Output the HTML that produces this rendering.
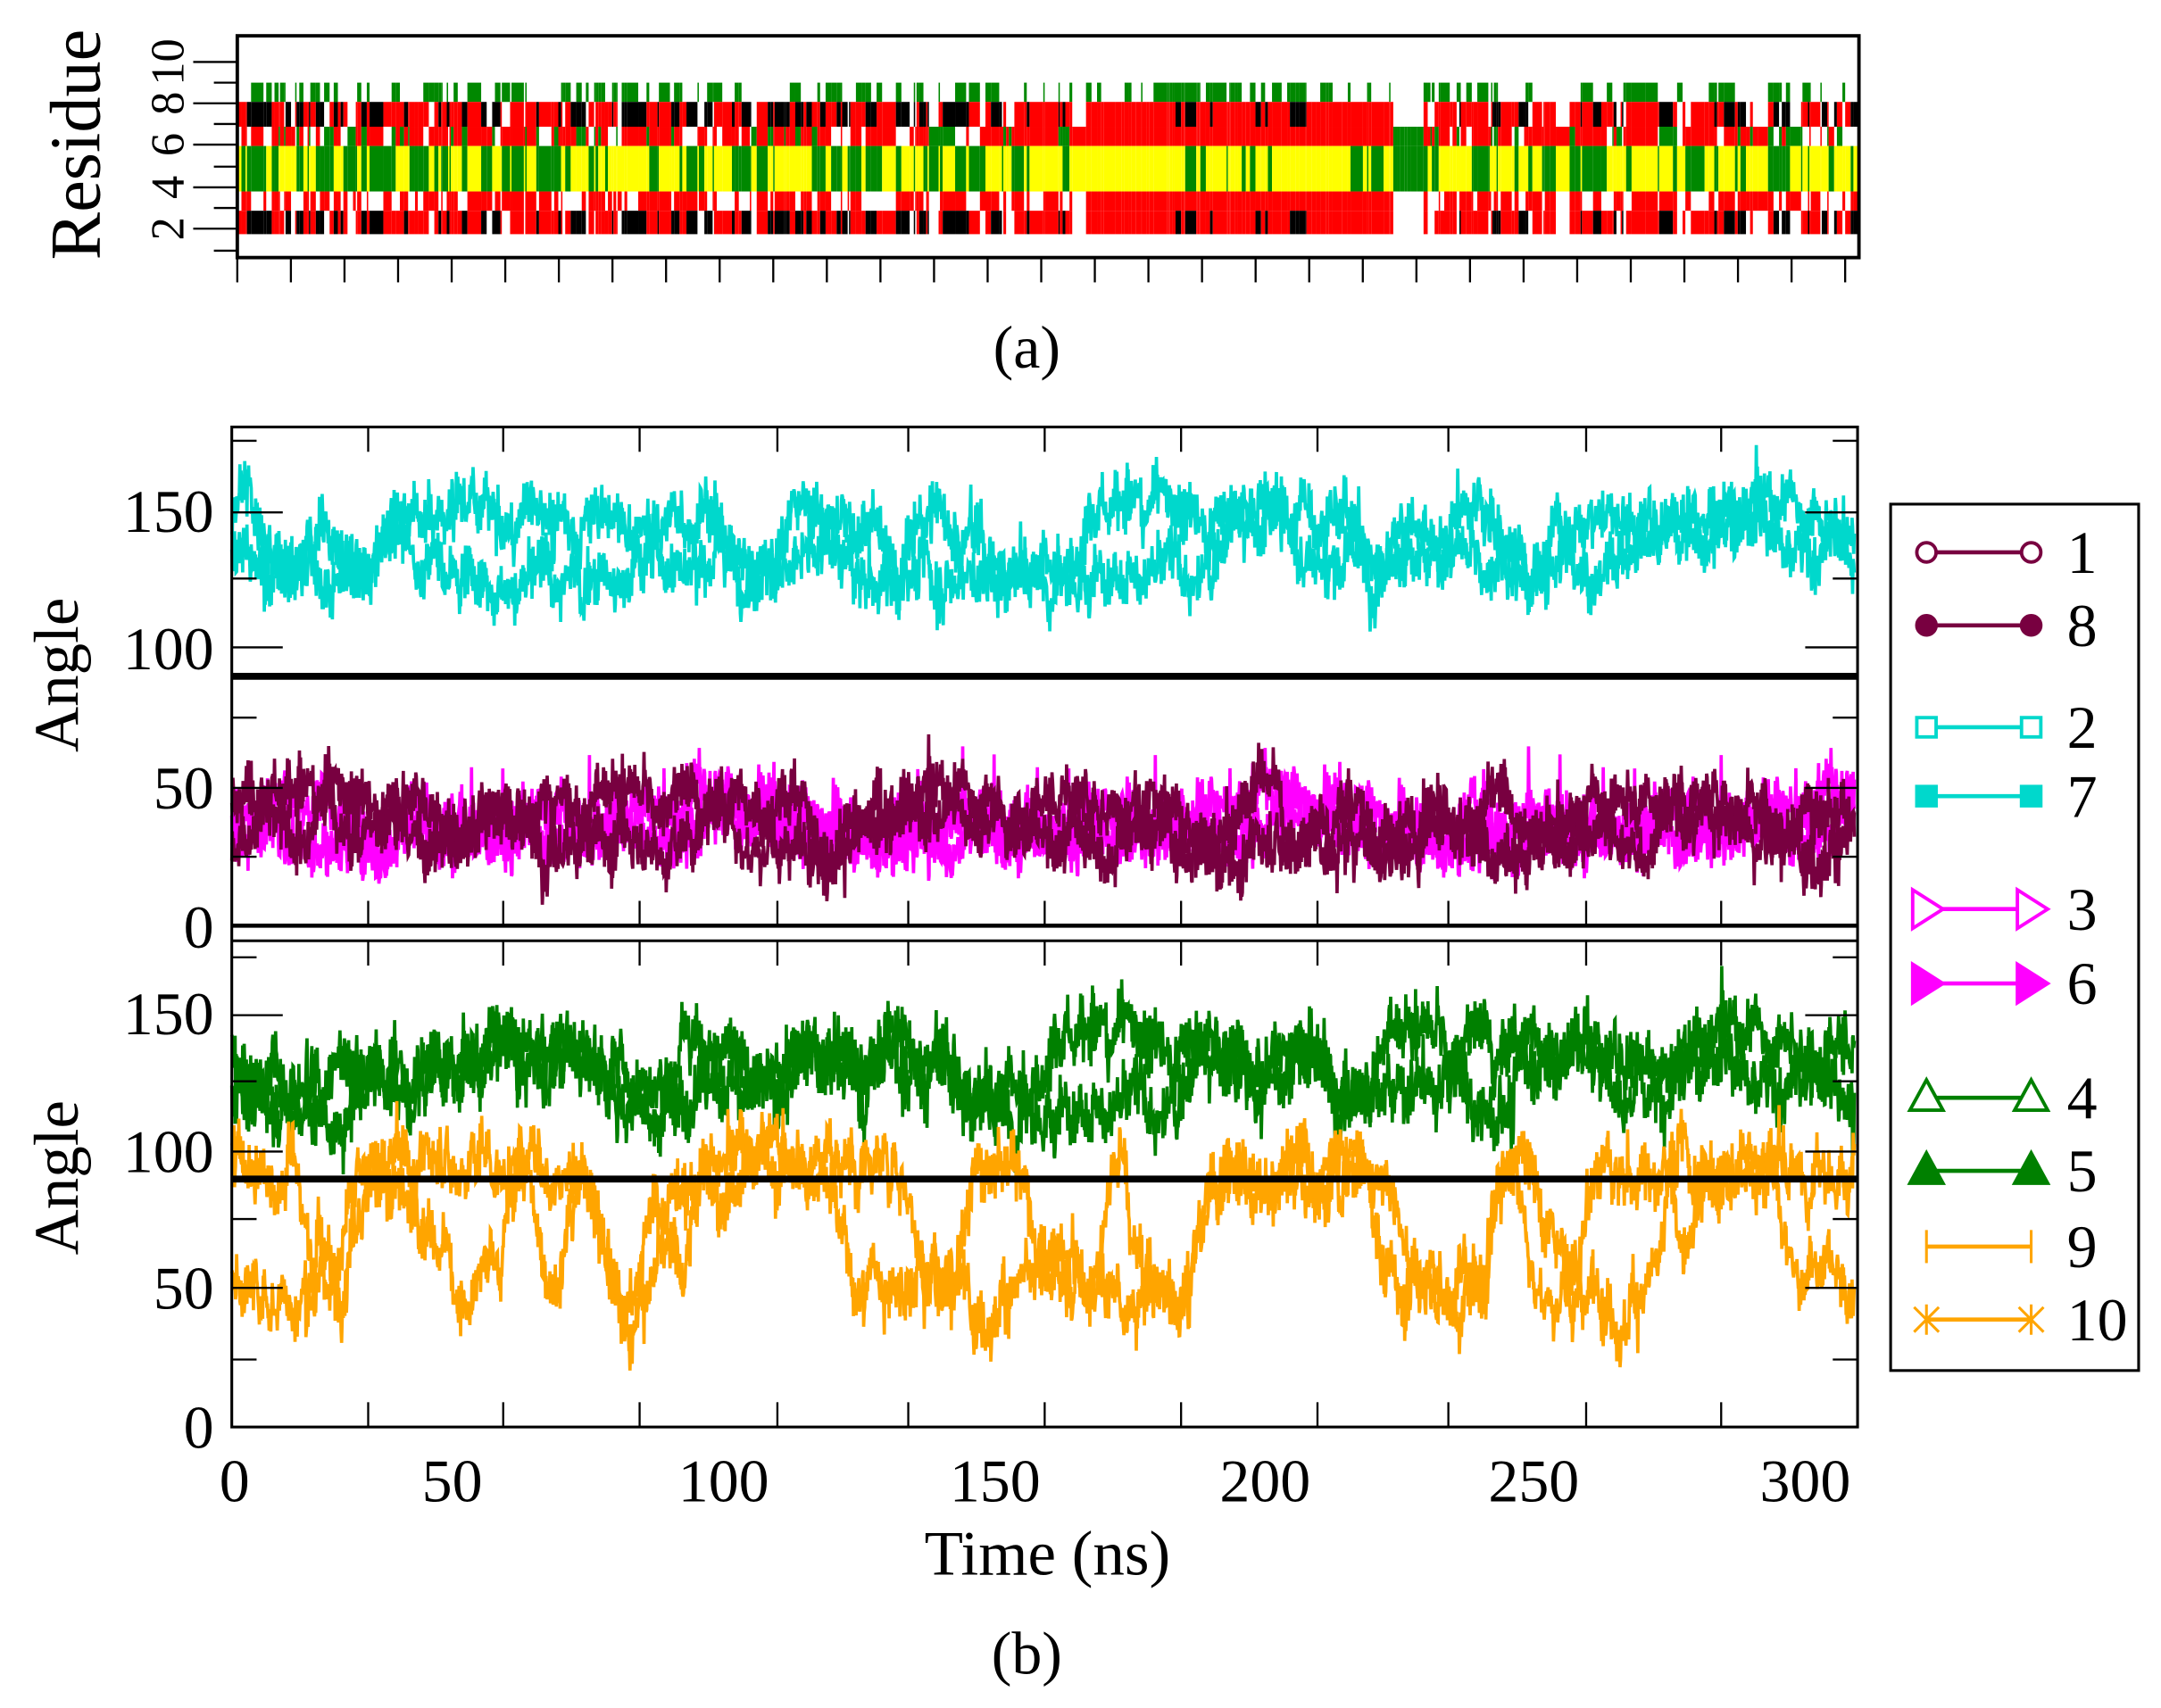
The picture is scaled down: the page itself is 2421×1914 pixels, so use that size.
<!DOCTYPE html>
<html><head><meta charset="utf-8"><style>
html,body{margin:0;padding:0;background:#fff;}
svg{display:block;}
text{font-family:"Liberation Serif",serif;fill:#000;}
</style></head><body>
<svg id="s" width="2421" height="1914" viewBox="0 0 1568 1240" xmlns="http://www.w3.org/2000/svg">
<rect width="1568" height="1240" fill="#fff"/>
<g id="stripes"></g>
<rect x="172" y="26" width="1177" height="161" fill="none" stroke="#000" stroke-width="2.5"/>
<g id="topticks" stroke="#000" stroke-width="1.5"></g>
<g font-size="34" text-anchor="middle">
<text transform="translate(122,45) rotate(-90)" dy="11">10</text>
<text transform="translate(122,75) rotate(-90)" dy="11">8</text>
<text transform="translate(122,105) rotate(-90)" dy="11">6</text>
<text transform="translate(122,136) rotate(-90)" dy="11">4</text>
<text transform="translate(122,166) rotate(-90)" dy="11">2</text>
</g>
<text transform="translate(72,105) rotate(-90)" font-size="52" text-anchor="middle">Residue</text>
<text x="745" y="267" font-size="44" text-anchor="middle">(a)</text>

<g id="series"></g>
<rect x="168" y="310" width="1180" height="726" fill="none" stroke="#000" stroke-width="2"/>
<line x1="168" y1="491" x2="1348" y2="491" stroke="#000" stroke-width="5"/>
<line x1="168" y1="672" x2="1348" y2="672" stroke="#000" stroke-width="3"/>
<line x1="168" y1="683" x2="1348" y2="683" stroke="#000" stroke-width="2"/>
<line x1="168" y1="856" x2="1348" y2="856" stroke="#000" stroke-width="5"/>
<g id="bticks" stroke="#000" stroke-width="1.5"></g>
<g font-size="44" text-anchor="end">
<text x="155" y="386">150</text><text x="155" y="486">100</text><text x="155" y="587">50</text><text x="155" y="688">0</text>
<text x="155" y="751">150</text><text x="155" y="851">100</text><text x="155" y="950">50</text><text x="155" y="1051">0</text>
</g>
<g font-size="44" text-anchor="middle">
<text x="170" y="1090">0</text><text x="328" y="1090">50</text><text x="525" y="1090">100</text><text x="722" y="1090">150</text><text x="918" y="1090">200</text><text x="1113" y="1090">250</text><text x="1310" y="1090">300</text>
</g>
<text transform="translate(56,490) rotate(-90)" font-size="46" text-anchor="middle">Angle</text>
<text transform="translate(56,855) rotate(-90)" font-size="46" text-anchor="middle">Angle</text>
<text x="760" y="1143" font-size="46" text-anchor="middle">Time (ns)</text>
<text x="745" y="1215" font-size="44" text-anchor="middle">(b)</text>

<rect x="1372" y="366" width="180" height="629" fill="#fff" stroke="#000" stroke-width="2"/>
<g id="legend"></g>
</svg>
<script>
var NS="http://www.w3.org/2000/svg";
function el(p,t,a){var e=document.createElementNS(NS,t);for(var k in a)e.setAttribute(k,a[k]);p.appendChild(e);return e;}
var seed=12345;function rnd(){seed=(seed*1103515245+12345)&0x7fffffff;return seed/0x7fffffff;}
function gauss(){return (rnd()+rnd()+rnd()+rnd()-2)*1.2;}
var st=document.getElementById("stripes");
var rows=[[60,74],[74,92],[92,106],[106,139],[139,153],[153,170]];
var x=172;
while(x<1349){
 var w=1+Math.floor(rnd()*(rnd()<0.2?10:4)); if(x+w>1349)w=1349-x;
 var cols;
 if(x>=780&&x<1010){var b=rnd()<0.12?"#000":"#f00";cols=[rnd()<0.6?"#080":"#fff",b,"#f00",rnd()<0.12?"#080":"#ff0","#f00",b];}
 else if(x>=1010&&x<1030){cols=["#fff","#fff","#080","#080","#fff","#fff"];}
 else{var r=rnd();var b=r<0.4?"#000":(r<0.85?"#f00":"#fff");var g=rnd()<0.45;
  cols=[rnd()<0.45?"#080":"#fff",b,rnd()<0.55?"#f00":(rnd()<0.5?"#fff":"#080"),g?"#080":"#ff0",rnd()<0.6?"#f00":"#fff",b];}
 if(x>1340)cols[0]="#fff";
 for(var i=0;i<6;i++){if(cols[i]!="#fff")el(st,"rect",{x:x,y:rows[i][0],width:w,height:rows[i][1]-rows[i][0],fill:cols[i]});}
 x+=w;
}
var tt=document.getElementById("topticks");
for(var i=0;i<31;i++){var tx=172+i*38.9;if(tx>1340)tx=1338;el(tt,"line",{x1:tx,y1:187,x2:tx,y2:205});}
[45,75,105,136,166].forEach(function(y){el(tt,"line",{x1:140,y1:y,x2:172,y2:y});});
[60,90,121,151,182].forEach(function(y){el(tt,"line",{x1:155,y1:y,x2:172,y2:y});});
var bt=document.getElementById("bticks");
var xt=[168,267,365,464,564,659,758,857,956,1051,1151,1249,1348];
xt.forEach(function(t,i){var L=18;
 [[310,310+L],[672,672-L],[683,683+L],[1036,1036-L]].forEach(function(p){el(bt,"line",{x1:t,y1:p[0],x2:t,y2:p[1]});});});
[372,470,572,737,836,935].forEach(function(y){el(bt,"line",{x1:168,y1:y,x2:205,y2:y});el(bt,"line",{x1:1310,y1:y,x2:1348,y2:y});});
[320,420,521,622,695,785,885,987].forEach(function(y){el(bt,"line",{x1:168,y1:y,x2:186,y2:y});el(bt,"line",{x1:1330,y1:y,x2:1348,y2:y});});
var sg=document.getElementById("series");
function yU(v){return 672-v*2.02;} function yL(v){return 1036-v*1.99;}
function series(color,mean,alt,sw,sd,noise,ymap,spike){
 var N=3000,pts=[],v=mean,m=mean;
 for(var i=0;i<N;i++){
  if(alt&&rnd()<sw)m=(m==mean?alt:mean);
  v+= (m-v)*0.05+gauss()*sd;
  var o=v+gauss()*noise;
  if(spike&&rnd()<0.004)o+=spike*rnd();
  pts.push((168+i*1178/N).toFixed(1)+","+ymap(o).toFixed(1));
 }
 el(sg,"polyline",{points:pts.join(" "),fill:"none",stroke:color,"stroke-width":2.4});
}
series("#00d8cc",148,128,0.006,2.2,7,yU,0);
series("#00d8cc",130,148,0.006,2.2,7,yU,0);
series("#ff00ff",33,45,0.01,2.0,7,yU,40);
series("#ff00ff",40,30,0.01,2.0,7,yU,35);
series("#780040",30,45,0.01,2.0,7,yU,0);
series("#780040",42,30,0.01,2.0,7,yU,0);
series("#008000",138,118,0.01,2.5,8,yL,0);
series("#008000",125,140,0.01,2.5,8,yL,0);
series("#ffa500",50,95,0.008,3,7,yL,0);
series("#ffa500",98,55,0.008,3,7,yL,0);
var lg=document.getElementById("legend");
var L=[["1",401,"#780040","circ",0],["8",454,"#780040","circ",1],["2",528,"#00d8cc","sq",0],["7",578,"#00d8cc","sq",1],
["3",660,"#ff00ff","tri",0],["6",714,"#ff00ff","tri",1],["4",797,"#008000","up",0],["5",850,"#008000","up",1],["9",905,"#ffa500","plus",0],["10",958,"#ffa500","star",0]];
L.forEach(function(e){var y=e[1],c=e[2];
 el(lg,"line",{x1:1398,y1:y,x2:1474,y2:y,stroke:c,"stroke-width":3});
 [1398,1474].forEach(function(x){var f=e[4]?c:"#fff";
  if(e[3]=="circ")el(lg,"circle",{cx:x,cy:y,r:7,fill:f,stroke:c,"stroke-width":2.5});
  if(e[3]=="sq")el(lg,"rect",{x:x-7,y:y-7,width:14,height:14,fill:f,stroke:c,"stroke-width":2.5});
  if(e[3]=="tri")el(lg,"polygon",{points:(x-10)+","+(y-14)+" "+(x+12)+","+y+" "+(x-10)+","+(y+14),fill:f,stroke:c,"stroke-width":2.5});
  if(e[3]=="up")el(lg,"polygon",{points:(x-12)+","+(y+9)+" "+x+","+(y-13)+" "+(x+12)+","+(y+9),fill:f,stroke:c,"stroke-width":2.5});
  if(e[3]=="plus"){el(lg,"line",{x1:x,y1:y-12,x2:x,y2:y+12,stroke:c,"stroke-width":2});}
  if(e[3]=="star"){el(lg,"path",{d:"M"+(x-9)+" "+(y-9)+"L"+(x+9)+" "+(y+9)+"M"+(x+9)+" "+(y-9)+"L"+(x-9)+" "+(y+9)+"M"+x+" "+(y-11)+"V"+(y+11),stroke:c,"stroke-width":2});}
 });
 var t=el(lg,"text",{x:1500,y:y+15,"font-size":44});t.textContent=e[0];
});
</script>
</body></html>
